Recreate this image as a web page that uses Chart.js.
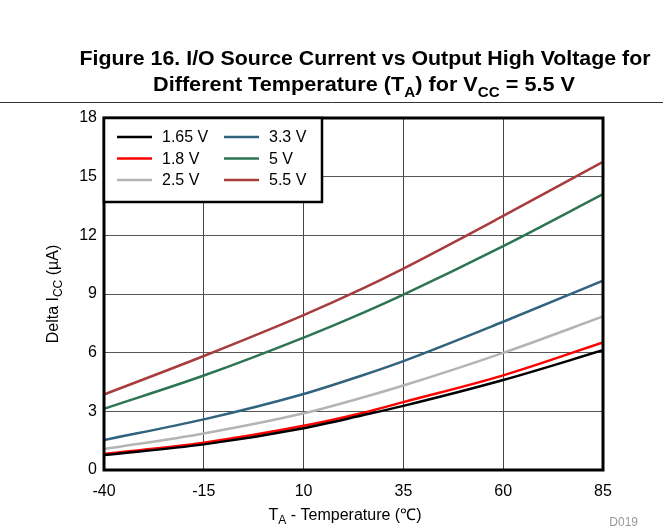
<!DOCTYPE html>
<html>
<head>
<meta charset="utf-8">
<script src="https://cdn.jsdelivr.net/npm/chart.js@4.4.1/dist/chart.umd.min.js"></script>
<style>
  html, body { margin: 0; padding: 0; background: #fff; }
  canvas { display: block; }
</style>
</head>
<body>
<canvas id="c" width="663" height="531"></canvas>
<script>
// Temperature points (°C) and Delta Icc (µA) per VCC curve
const temps = [-40, -15, 10, 25, 35, 60, 85];
const v165 = [0.77, 1.31, 2.14, 2.81, 3.28, 4.60, 6.12];
const v18  = [0.82, 1.40, 2.26, 2.93, 3.47, 4.84, 6.52];
const v25  = [1.07, 1.87, 2.90, 3.72, 4.32, 5.99, 7.85];
const v33  = [1.53, 2.59, 3.89, 4.86, 5.57, 7.58, 9.68];
const v5   = [3.13, 4.83, 6.77, 8.05, 8.97, 11.45, 14.11];
const v55  = [3.86, 5.83, 7.92, 9.30, 10.30, 12.99, 15.76];

const seriesLabels = ['1.65 V', '1.8 V', '2.5 V', '3.3 V', '5 V', '5.5 V'];
const seriesData = [v165, v18, v25, v33, v5, v55];
const seriesColors = ['#000000', '#ff0000', '#b4b4b4', '#31637f', '#2d7552', '#a83c3c'];

const FONT = '"Liberation Sans", Arial, sans-serif';

// draw text made of segments, some of them subscripts
function richWidth(ctx, segs, size, weight) {
  let w = 0;
  segs.forEach(s => {
    ctx.font = `${weight} ${s.sub ? Math.round(size * 0.72) : size}px ${FONT}`;
    w += ctx.measureText(s.t).width;
  });
  return w;
}
function richText(ctx, segs, cx, y, size, weight, fitW) {
  const w = richWidth(ctx, segs, size, weight);
  const k = fitW ? fitW / w : 1;
  ctx.save();
  ctx.translate(cx - (w * k) / 2, y);
  ctx.scale(k, 1);
  let x = 0;
  ctx.textAlign = 'left';
  ctx.textBaseline = 'alphabetic';
  segs.forEach(s => {
    ctx.font = `${weight} ${s.sub ? Math.round(size * 0.72) : size}px ${FONT}`;
    ctx.fillText(s.t, x, s.sub ? size * 0.28 : 0);
    x += ctx.measureText(s.t).width;
  });
  ctx.restore();
}

const decor = {
  id: 'decor',
  afterDatasetsDraw(chart) {
    const { ctx, chartArea: a } = chart;
    ctx.save();
    ctx.strokeStyle = '#000';
    ctx.lineWidth = 3;
    ctx.strokeRect(a.left, a.top, a.right - a.left, a.bottom - a.top);
    ctx.restore();
  },
  afterDraw(chart) {
    const { ctx, chartArea: a } = chart;
    ctx.save();
    ctx.fillStyle = '#000';

    // figure title (condensed bold in the original, so fit to its width)
    richText(ctx, [{ t: 'Figure 16. I/O Source Current vs Output High Voltage for' }], 365, 65, 20, 'bold', 571);
    richText(ctx, [
      { t: 'Different Temperature (T' }, { t: 'A', sub: true }, { t: ') for V' },
      { t: 'CC', sub: true }, { t: ' = 5.5 V' }
    ], 364, 91, 20, 'bold', 422);

    ctx.strokeStyle = '#333';
    ctx.lineWidth = 1;
    ctx.beginPath();
    ctx.moveTo(0, 102.5);
    ctx.lineTo(663, 102.5);
    ctx.stroke();

    // axis titles
    richText(ctx, [{ t: 'T' }, { t: 'A', sub: true }, { t: ' - Temperature (℃)' }], 345, 520, 16, 'normal');
    ctx.save();
    ctx.translate(58, (a.top + a.bottom) / 2);
    ctx.rotate(-Math.PI / 2);
    richText(ctx, [{ t: 'Delta I' }, { t: 'CC', sub: true }, { t: ' (µA)' }], 0, 0, 16, 'normal');
    ctx.restore();

    ctx.fillStyle = '#999';
    ctx.font = `12px ${FONT}`;
    ctx.textAlign = 'right';
    ctx.fillText('D019', 638, 526);

    // legend box
    const lx = a.left, ly = a.top, lw = 218, lh = 84;
    ctx.fillStyle = '#fff';
    ctx.fillRect(lx, ly, lw, lh);
    ctx.strokeStyle = '#000';
    ctx.lineWidth = 2.5;
    ctx.strokeRect(lx, ly, lw, lh);
    ctx.font = `16px ${FONT}`;
    ctx.textAlign = 'left';
    ctx.textBaseline = 'middle';
    seriesLabels.forEach((lab, i) => {
      const col = Math.floor(i / 3), row = i % 3;
      const x0 = lx + 13 + col * 107;
      const y0 = ly + 19 + row * 21.5;
      ctx.strokeStyle = seriesColors[i];
      ctx.lineWidth = 2.5;
      ctx.beginPath();
      ctx.moveTo(x0, y0);
      ctx.lineTo(x0 + 35, y0);
      ctx.stroke();
      ctx.fillStyle = '#000';
      ctx.fillText(lab, x0 + 45, y0 + 1);
    });
    ctx.restore();
  }
};

new Chart(document.getElementById('c'), {
  type: 'line',
  data: {
    datasets: seriesLabels.map((lab, i) => ({
      label: lab,
      data: temps.map((t, j) => ({ x: t, y: seriesData[i][j] })),
      borderColor: seriesColors[i],
      borderWidth: 2.5,
      pointRadius: 0,
      fill: false,
      cubicInterpolationMode: 'monotone',
    }))
  },
  options: {
    responsive: false,
    animation: false,
    layout: { padding: { top: 118, right: 60, left: 0, bottom: 0 } },
    plugins: { legend: { display: false }, tooltip: { enabled: false } },
    scales: {
      x: {
        type: 'linear', min: -40, max: 85,
        afterFit: s => { s.height = 61; },
        afterBuildTicks: s => { s.ticks = [-40, -15, 10, 35, 60, 85].map(v => ({ value: v })); },
        grid: { color: '#444', lineWidth: 1, drawTicks: false },
        border: { display: false },
        ticks: { color: '#000', font: { family: FONT, size: 16 }, padding: 12 }
      },
      y: {
        min: 0, max: 18,
        afterFit: s => { s.width = 104; },
        grid: { color: '#555', lineWidth: 1, drawTicks: false },
        border: { display: false },
        ticks: { stepSize: 3, color: '#000', font: { family: FONT, size: 16 }, padding: 7 }
      }
    }
  },
  plugins: [decor]
});
</script>
</body>
</html>
